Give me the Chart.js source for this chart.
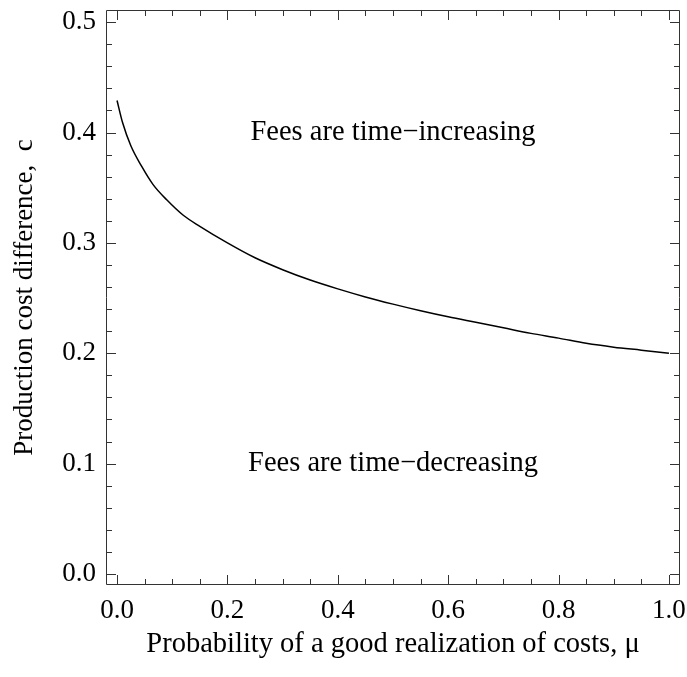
<!DOCTYPE html>
<html>
<head>
<meta charset="utf-8">
<script src="https://cdn.jsdelivr.net/npm/chart.js@4"></script>
<style>
  html, body { margin: 0; padding: 0; background: #fff; }
  #chart { display: block; }
</style>
</head>
<body>
<canvas id="chart" width="687" height="677"></canvas>
<script>
// curve: mu -> c
const mu = [0, 0.01, 0.025, 0.045, 0.065, 0.09, 0.12, 0.15, 0.2, 0.25, 0.3, 0.35, 0.4,
  0.45, 0.5, 0.55, 0.6, 0.65, 0.7, 0.75, 0.8, 0.85, 0.9, 0.95, 1.0]
const cost = [0.429, 0.409, 0.388, 0.369, 0.353, 0.339, 0.325, 0.315, 0.300, 0.2865, 0.2757,
  0.2663, 0.2583, 0.251, 0.2445, 0.2385, 0.233, 0.228, 0.223, 0.218, 0.2137, 0.209, 0.2055,
  0.2028, 0.200]

const xTicks = [0, 0.2, 0.4, 0.6, 0.8, 1.0]
const xTickLabels = ['0.0', '0.2', '0.4', '0.6', '0.8', '1.0']
const yTicks = [0, 0.1, 0.2, 0.3, 0.4, 0.5]
const yTickLabels = ['0.0', '0.1', '0.2', '0.3', '0.4', '0.5']
const xMinor = [0.05, 0.1, 0.15, 0.25, 0.3, 0.35, 0.45, 0.5, 0.55, 0.65, 0.7, 0.75, 0.85, 0.9, 0.95]
const yMinor = [0.02, 0.04, 0.06, 0.08, 0.12, 0.14, 0.16, 0.18, 0.22, 0.24, 0.26, 0.28,
  0.32, 0.34, 0.36, 0.38, 0.42, 0.44, 0.46, 0.48]

const regionLabels = ['Fees are time\u2212increasing', 'Fees are time\u2212decreasing']
const regionAt = [[0.5, 0.4], [0.5, 0.1]]

const FONT = "'Liberation Serif', 'Times New Roman', serif"

// frame with inward ticks on all four sides + region texts
const framePlugin = {
  id: 'frame',
  afterDraw(chart) {
    const ctx = chart.ctx
    const a = chart.chartArea
    const xs = chart.scales.x
    const ys = chart.scales.y
    ctx.save()
    ctx.strokeStyle = '#333'
    ctx.lineWidth = 1
    ctx.beginPath()
    ctx.rect(a.left + 0.5, a.top + 0.5, a.right - a.left - 1, a.bottom - a.top - 1)
    const tick = (vals, len) => {
      for (const v of vals) {
        const px = Math.round(xs.getPixelForValue(v)) + 0.5
        ctx.moveTo(px, a.bottom); ctx.lineTo(px, a.bottom - len)
        ctx.moveTo(px, a.top); ctx.lineTo(px, a.top + len)
      }
    }
    const tickY = (vals, len) => {
      for (const v of vals) {
        const py = Math.round(ys.getPixelForValue(v)) + 0.5
        ctx.moveTo(a.left, py); ctx.lineTo(a.left + len, py)
        ctx.moveTo(a.right, py); ctx.lineTo(a.right - len, py)
      }
    }
    tick(xTicks, 10)
    tick(xMinor, 6)
    tickY(yTicks, 10)
    tickY(yMinor, 6)
    ctx.stroke()

    ctx.fillStyle = '#000'
    ctx.font = '28.5px ' + FONT
    ctx.textAlign = 'center'
    ctx.textBaseline = 'middle'
    regionLabels.forEach((t, i) => {
      ctx.fillText(t, xs.getPixelForValue(regionAt[i][0]), ys.getPixelForValue(regionAt[i][1]))
    })
    ctx.restore()
  }
}

new Chart(document.getElementById('chart').getContext('2d'), {
  type: 'scatter',
  data: {
    datasets: [{
      data: mu.map((m, i) => ({ x: m, y: cost[i] })),
      showLine: true,
      borderColor: '#000',
      borderWidth: 1.5,
      pointRadius: 0,
      cubicInterpolationMode: 'monotone'
    }]
  },
  options: {
    responsive: false,
    animation: false,
    layout: { padding: { left: 0, right: 7, top: 10, bottom: 0 } },
    plugins: { legend: { display: false }, tooltip: { enabled: false } },
    scales: {
      x: {
        type: 'linear',
        min: -0.02,
        max: 1.02,
        grid: { display: false },
        border: { display: false },
        afterBuildTicks: s => { s.ticks = xTicks.map(v => ({ value: v })) },
        afterFit: s => {
          s.height = 92
          s.paddingLeft = 0
          s.paddingRight = 0
        },
        ticks: {
          color: '#000',
          padding: 2,
          maxRotation: 0,
          autoSkip: false,
          font: { family: FONT, size: 27 },
          callback: v => xTickLabels[xTicks.indexOf(v)]
        },
        title: {
          display: true,
          text: 'Probability of a good realization of costs, \u03bc',
          color: '#000',
          font: { family: FONT, size: 28.5 },
          padding: { top: 0, bottom: 15 }
        }
      },
      y: {
        type: 'linear',
        min: -0.01,
        max: 0.511,
        grid: { display: false },
        border: { display: false },
        afterBuildTicks: s => { s.ticks = yTicks.map(v => ({ value: v })) },
        afterFit: s => {
          s.width = 106
          s.paddingTop = 0
          s.paddingBottom = 0
        },
        ticks: {
          color: '#000',
          padding: 2,
          autoSkip: false,
          font: { family: FONT, size: 27 },
          callback: v => yTickLabels[yTicks.indexOf(v)]
        },
        title: {
          display: true,
          text: 'Production cost difference,  c',
          color: '#000',
          font: { family: FONT, size: 27 },
          padding: { top: 9, bottom: 0 }
        }
      }
    }
  },
  plugins: [framePlugin]
})
</script>
</body>
</html>
